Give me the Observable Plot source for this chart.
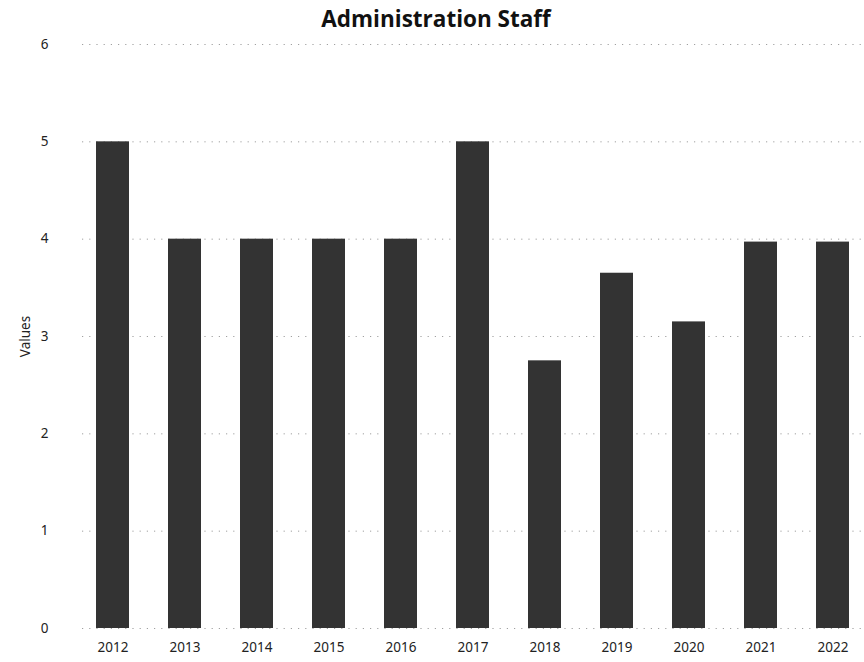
<!DOCTYPE html>
<html>
<head>
<meta charset="utf-8">
<script src="https://cdn.jsdelivr.net/npm/d3@7"></script>
<script src="https://cdn.jsdelivr.net/npm/@observablehq/plot@0.6"></script>
<style>
  body { margin: 0; background: #fff; }
  #title { height: 36px; line-height: 38px; text-align: center; font-family: "Open Sans", sans-serif; font-weight: 700; font-size: 22.5px; color: #111; padding-left: 8px; }
  #chart svg { display: block; }
</style>
</head>
<body>
<div id="title">Administration Staff</div>
<div id="chart"></div>
<script>
const years = ["2012","2013","2014","2015","2016","2017","2018","2019","2020","2021","2022"];
const values = [5, 4, 4, 4, 4, 5, 2.75, 3.65, 3.15, 3.97, 3.97];
const yTicks = [0, 1, 2, 3, 4, 5, 6];
const yLabel = "Values";

const data = years.map((y, i) => ({year: y, value: values[i]}));

const chart = Plot.plot({
  width: 864,
  height: 626,
  marginTop: 8,
  marginBottom: 34,
  marginLeft: 82,
  marginRight: 0,
  style: {fontFamily: "'Noto Sans', sans-serif", fontSize: "13.5px", color: "#222", background: "#fff"},
  x: {domain: years, paddingInner: 0.54, paddingOuter: 0.18, label: null},
  y: {domain: [0, 6], label: yLabel},
  marks: [
    Plot.gridY(yTicks, {stroke: "#777", strokeOpacity: 0.7, strokeDasharray: "1.2,6"}),
    Plot.barY(data, {x: "year", y: "value", fill: "#333"}),
    Plot.axisX({tickSize: 0, tickPadding: 14, fontSize: 13.5}),
    Plot.axisY({ticks: yTicks, tickSize: 0, tickPadding: 34, fontSize: 13.5, label: yLabel, labelAnchor: "center", labelArrow: "none", labelOffset: 62, tickFormat: d3.format("d")})
  ]
});
document.getElementById("chart").appendChild(chart);
</script>
</body>
</html>
